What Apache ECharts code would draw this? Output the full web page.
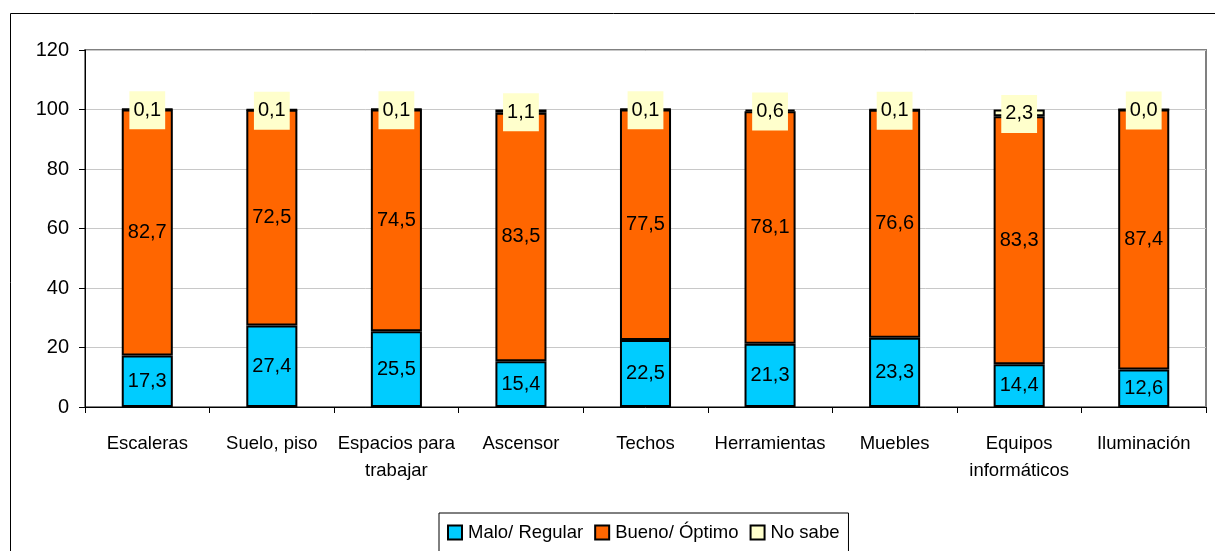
<!DOCTYPE html>
<html>
<head>
<meta charset="utf-8">
<script src="https://cdn.jsdelivr.net/npm/echarts@6/dist/echarts.min.js"></script>
<style>
html,body{margin:0;padding:0;background:#fff;}
#chart{width:1215px;height:551px;}
</style>
</head>
<body>
<div id="chart"></div>
<script>
const categories = ['Escaleras','Suelo, piso','Espacios para\ntrabajar','Ascensor','Techos','Herramientas','Muebles','Equipos\ninformáticos','Iluminación'];
const maloRegular = [17.3, 27.4, 25.5, 15.4, 22.5, 21.3, 23.3, 14.4, 12.6];
const buenoOptimo = [82.7, 72.5, 74.5, 83.5, 77.5, 78.1, 76.6, 83.3, 87.4];
const noSabe = [0.1, 0.1, 0.1, 1.1, 0.1, 0.6, 0.1, 2.3, 0.0];
const yTicks = {min: 0, max: 120, interval: 20};

const FONT = 'Liberation Sans, Arial, sans-serif';
const fmt = p => p.value.toFixed(1).replace('.', ',');

const chart = echarts.init(document.getElementById('chart'));
const baseLabel = {show: true, position: 'inside', formatter: fmt, color: '#000', fontSize: 20, fontFamily: FONT};
chart.setOption({
  animation: false,
  textStyle: {fontFamily: FONT},
  graphic: [{
    type: 'rect', left: 8, top: 11, z: -1,
    shape: {width: 1230, height: 570},
    style: {fill: 'none', stroke: '#000', lineWidth: 1}
  }],
  grid: {left: 85, right: 9, top: 50, bottom: 144, show: true, borderColor: '#808080', borderWidth: 2},
  legend: {
    top: 513, left: 439,
    data: ['Malo/ Regular', 'Bueno/ Óptimo', 'No sabe'],
    itemWidth: 14, itemHeight: 14, itemGap: 11,
    borderColor: '#000', borderWidth: 1, padding: [10, 9, 10, 8],
    textStyle: {fontSize: 18.5, color: '#000', fontFamily: FONT, padding: [0, 0, 0, 1]},
    icon: 'rect'
  },
  xAxis: {
    type: 'category', data: categories,
    axisLine: {lineStyle: {color: '#000', width: 1}},
    axisTick: {show: true, interval: 0, length: 6, lineStyle: {color: '#000'}},
    axisLabel: {interval: 0, fontSize: 18.5, color: '#000', lineHeight: 27, margin: 23, fontFamily: FONT}
  },
  yAxis: {
    type: 'value', min: yTicks.min, max: yTicks.max, interval: yTicks.interval,
    axisLine: {show: true, lineStyle: {color: '#000', width: 1}},
    axisTick: {show: true, length: 6, lineStyle: {color: '#000'}},
    axisLabel: {fontSize: 20, color: '#000', margin: 16, fontFamily: FONT},
    splitLine: {lineStyle: {color: '#c8c8c8', width: 1}}
  },
  series: [
    {name: 'Malo/ Regular', type: 'bar', stack: 's', data: maloRegular, barWidth: '41%',
     itemStyle: {color: '#00CCFF', borderColor: '#000', borderWidth: 2}, label: baseLabel},
    {name: 'Bueno/ Óptimo', type: 'bar', stack: 's', data: buenoOptimo,
     itemStyle: {color: '#FF6600', borderColor: '#000', borderWidth: 2}, label: baseLabel},
    {name: 'No sabe', type: 'bar', stack: 's', data: noSabe,
     itemStyle: {color: '#FFFFCC', borderColor: '#000', borderWidth: 2},
     label: Object.assign({}, baseLabel, {backgroundColor: '#FFFFCC', padding: [9, 4, 9, 4], offset: [0, 1]})}
  ]
});
</script>
</body>
</html>
